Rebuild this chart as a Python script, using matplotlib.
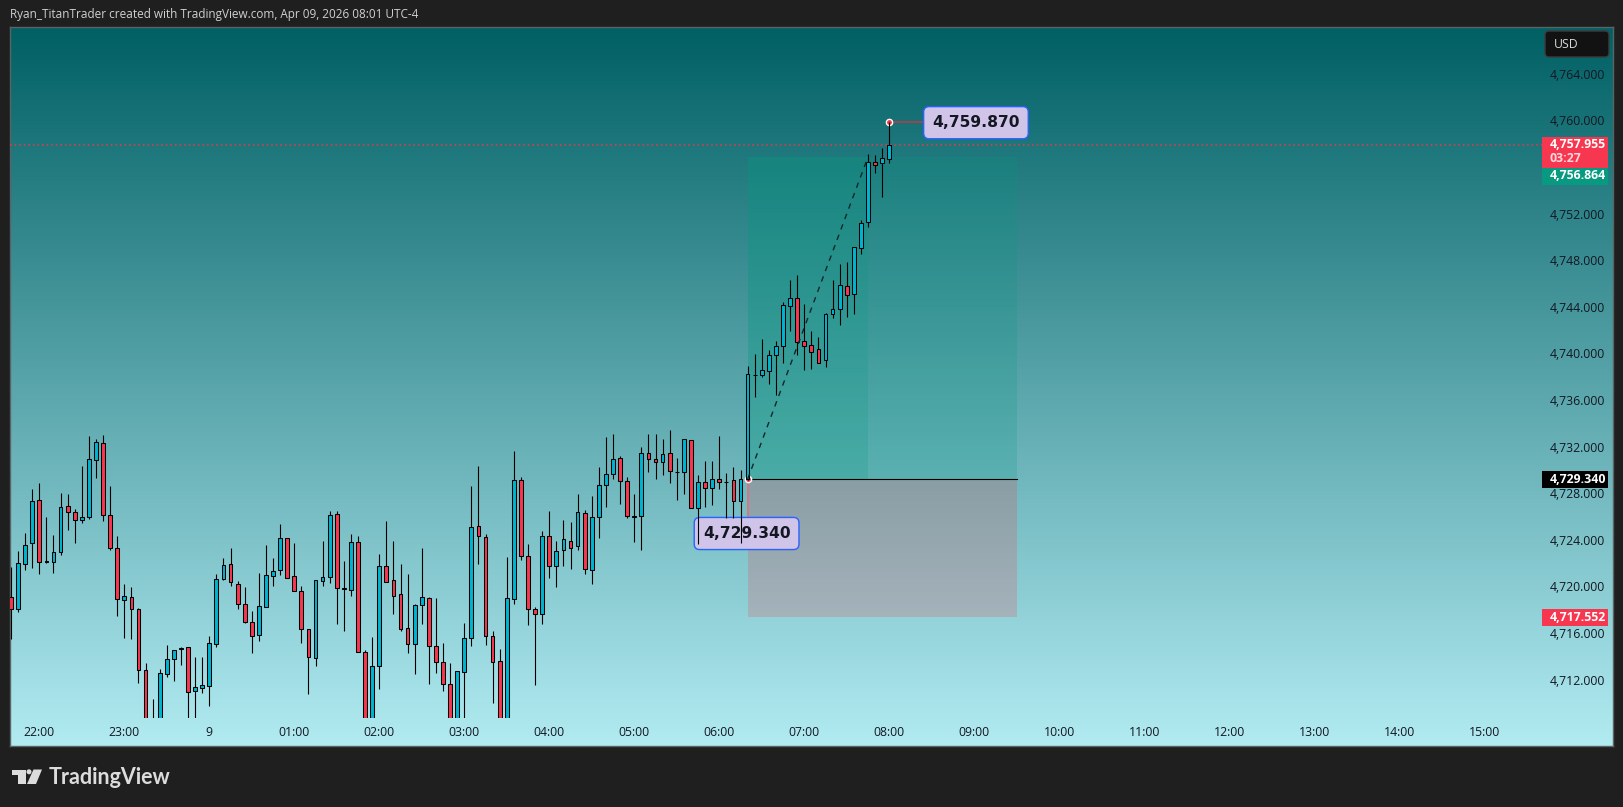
import matplotlib
matplotlib.use('Agg')
import matplotlib.pyplot as plt
import numpy as np
from matplotlib.colors import LinearSegmentedColormap
from matplotlib.patches import Rectangle, FancyBboxPatch, Polygon, Circle

# 5 minute candles
opens = [
    4719.32, 4718.24, 4722.08, 4723.87, 4727.54, 4722.31, 4722.31, 4723.16, 4727.03, 4726.52,
    4725.84, 4726.09, 4730.96, 4732.41, 4726.26, 4723.45, 4719.01, 4719.26, 4718.24, 4713.03,
    4707.5, 4707.2, 4712.75, 4713.97, 4714.88, 4714.99, 4711.29, 4711.55, 4711.72, 4715.31,
    4720.86, 4722.08, 4720.37, 4718.67, 4717.13, 4716.08, 4718.47, 4721.11, 4721.57, 4724.30,
    4721.06, 4719.78, 4716.53, 4714.06, 4720.69, 4720.97, 4726.35, 4720.03, 4719.92, 4723.96,
    4714.57, 4707.5, 4713.37, 4721.91, 4720.71, 4719.52, 4716.62, 4715.25, 4718.58, 4719.18,
    4715.08, 4713.71, 4711.84, 4707.5, 4712.92, 4715.76, 4725.32, 4724.39, 4715.93, 4713.80,
    4707.5, 4719.09, 4729.25, 4722.76, 4718.24, 4717.81, 4724.47, 4721.91, 4723.28, 4724.04,
    4723.62, 4726.43, 4721.57, 4726.09, 4728.82, 4729.76, 4731.13, 4729.17, 4726.18, 4726.18,
    4731.56, 4731.04, 4730.79, 4731.56, 4729.96, 4729.93, 4732.67, 4726.86, 4729.08, 4728.57,
    4729.34, 4729.14, 4729.25, 4727.46, 4729.34, 4738.27, 4738.27, 4738.55, 4739.98, 4740.69,
    4744.10, 4744.79, 4741.12, 4740.77, 4740.43, 4739.49, 4743.42, 4743.85, 4745.81, 4745.13,
    4749.06, 4751.28, 4756.40, 4756.31, 4756.71,
]
highs = [
    4721.88, 4723.22, 4724.73, 4728.51, 4729.00, 4726.12, 4724.58, 4728.17, 4728.08, 4726.78,
    4730.48, 4733.04, 4732.75, 4733.12, 4728.77, 4724.50, 4720.40, 4720.15, 4718.35, 4713.66,
    4710.58, 4713.12, 4715.19, 4714.74, 4714.99, 4714.99, 4714.17, 4714.17, 4715.93, 4721.25,
    4722.62, 4723.47, 4720.63, 4720.15, 4718.10, 4721.31, 4723.73, 4722.62, 4725.52, 4724.30,
    4723.90, 4720.23, 4716.53, 4720.71, 4724.07, 4726.63, 4726.63, 4722.36, 4724.67, 4724.50,
    4714.77, 4715.88, 4722.96, 4725.78, 4724.07, 4722.11, 4721.25, 4718.69, 4723.47, 4719.29,
    4719.21, 4715.36, 4713.66, 4712.95, 4717.04, 4728.77, 4730.48, 4724.64, 4716.39, 4714.85,
    4722.71, 4731.76, 4729.51, 4723.82, 4718.41, 4724.93, 4726.63, 4724.07, 4725.87, 4725.69,
    4728.08, 4726.69, 4727.91, 4730.39, 4732.95, 4733.21, 4731.33, 4729.51, 4728.08, 4732.10,
    4733.21, 4733.21, 4732.78, 4733.55, 4731.16, 4732.75, 4732.70, 4729.68, 4730.90, 4730.90,
    4733.04, 4729.85, 4730.36, 4730.11, 4739.01, 4740.03, 4741.32, 4740.35, 4741.14, 4744.47,
    4746.35, 4746.78, 4744.30, 4742.00, 4741.49, 4743.51, 4746.32, 4747.72, 4747.89, 4749.17,
    4751.45, 4757.11, 4757.02, 4757.62, 4759.87,
]
lows = [
    4715.73, 4718.04, 4721.60, 4721.80, 4721.28, 4722.22, 4721.37, 4722.88, 4725.01, 4723.90,
    4725.61, 4725.95, 4729.45, 4725.78, 4723.30, 4717.67, 4715.79, 4715.71, 4711.95, 4706.5,
    4707.0, 4706.5, 4712.46, 4712.12, 4713.49, 4707.5, 4707.5, 4711.10, 4709.99, 4715.02,
    4720.74, 4720.23, 4718.27, 4717.10, 4714.51, 4715.53, 4718.41, 4720.23, 4721.17, 4720.94,
    4719.83, 4715.36, 4711.01, 4713.40, 4720.23, 4720.49, 4716.99, 4716.42, 4719.41, 4714.62,
    4707.0, 4707.0, 4711.44, 4720.60, 4717.84, 4716.39, 4714.51, 4712.72, 4716.99, 4711.86,
    4712.80, 4711.29, 4707.0, 4707.0, 4708.96, 4715.11, 4722.11, 4715.19, 4710.24, 4707.0,
    4707.0, 4718.69, 4722.45, 4716.93, 4711.78, 4717.01, 4720.94, 4720.17, 4721.97, 4721.71,
    4723.33, 4721.28, 4720.43, 4724.36, 4727.00, 4729.39, 4727.26, 4726.06, 4723.99, 4723.33,
    4729.96, 4729.39, 4729.74, 4729.05, 4727.60, 4728.11, 4726.86, 4723.84, 4726.97, 4727.15,
    4728.54, 4726.04, 4726.04, 4723.93, 4729.25, 4736.39, 4738.10, 4737.47, 4736.53, 4739.29,
    4742.03, 4739.95, 4738.67, 4738.75, 4739.24, 4738.95, 4743.11, 4742.51, 4743.19, 4743.45,
    4748.57, 4750.88, 4755.49, 4753.44, 4756.37,
]
closes = [
    4718.24, 4722.17, 4723.70, 4727.46, 4722.25, 4722.34, 4723.10, 4726.95, 4726.52, 4725.84,
    4726.09, 4731.04, 4732.50, 4726.26, 4723.45, 4719.09, 4719.35, 4718.24, 4713.03, 4707.5,
    4708.93, 4712.77, 4713.97, 4714.74, 4714.91, 4711.21, 4711.58, 4711.75, 4715.34, 4720.80,
    4721.99, 4720.54, 4718.67, 4717.13, 4715.99, 4718.49, 4721.14, 4721.48, 4724.30, 4720.94,
    4719.83, 4716.59, 4714.14, 4720.71, 4720.97, 4726.26, 4720.03, 4720.00, 4723.96, 4714.62,
    4707.5, 4713.37, 4721.91, 4720.60, 4719.35, 4716.59, 4715.25, 4718.58, 4719.26, 4715.14,
    4713.77, 4711.84, 4707.5, 4712.95, 4715.76, 4725.24, 4724.47, 4715.93, 4713.77, 4707.5,
    4719.18, 4729.25, 4722.76, 4718.24, 4717.84, 4724.47, 4721.91, 4723.19, 4724.21, 4723.45,
    4726.52, 4721.65, 4726.09, 4728.82, 4729.76, 4731.10, 4729.17, 4726.18, 4726.15, 4731.56,
    4731.04, 4730.79, 4731.47, 4730.02, 4729.93, 4732.75, 4726.86, 4729.08, 4728.57, 4729.34,
    4729.08, 4729.11, 4727.46, 4729.34, 4738.30, 4738.21, 4738.64, 4739.92, 4740.69, 4744.19,
    4744.79, 4741.09, 4740.75, 4740.23, 4739.29, 4743.42, 4743.85, 4745.90, 4745.10, 4749.14,
    4751.19, 4756.40, 4756.20, 4756.74, 4757.85,
]

time_labels = ['22:00', '23:00', '9', '01:00', '02:00', '03:00', '04:00', '05:00', '06:00',
               '07:00', '08:00', '09:00', '10:00', '11:00', '12:00', '13:00', '14:00', '15:00']
# 4,756 sits under the price tags in the picture
price_ticks = [4712, 4716, 4720, 4724, 4728, 4732, 4736, 4740, 4744, 4748, 4752, 4760, 4764]

entry = 4729.34
target = 4756.864
stop = 4717.552
peak = 4759.87
last = 4757.955

W, H = 1623, 807
BG = '#1f1f1f'
UP = '#00b4d0'
DOWN = '#f7374f'
TEXT = '#131722'
FONT = 'Open Sans'

# pixel geometry of the pane
PANE_L, PANE_R, PANE_T, PANE_B = 10, 1613, 27, 746
CHART_R, CHART_B = 1542, 718
BAR_PX = 7.083
BAR4_X = 39.3          # x of the bar at 22:00
PX_PER_USD = 11.713
PEAK_Y = 121.7
# the labels of the price scale run a little tighter than the candles
LABEL_PX = 11.65
LABEL_Y = 73.8         # y of the 4,764 label

fig = plt.figure(figsize=(W / 100, H / 100), dpi=100, facecolor=BG)


def rect(l, t, r, b):
    return [l / W, 1 - b / H, (r - l) / W, (b - t) / H]


# background gradient
bg_ax = fig.add_axes(rect(PANE_L, PANE_T, PANE_R, PANE_B), zorder=0)
cmap = LinearSegmentedColormap.from_list('pane', ['#006064', '#b2ebf2'])
bg_ax.imshow(np.linspace(0, 1, 256).reshape(-1, 1), aspect='auto', cmap=cmap)
bg_ax.set_xticks([])
bg_ax.set_yticks([])
for s in bg_ax.spines.values():
    s.set_color('#5a6466')
    s.set_linewidth(1)

# candles
ax = fig.add_axes(rect(PANE_L, PANE_T, CHART_R, CHART_B), zorder=1)
ax.patch.set_alpha(0)
for s in ax.spines.values():
    s.set_visible(False)
ax.set_xlim(4 + (PANE_L - BAR4_X) / BAR_PX, 4 + (CHART_R - BAR4_X) / BAR_PX)
ax.set_ylim(peak - (CHART_B - PEAK_Y) / PX_PER_USD, peak + (PEAK_Y - PANE_T) / PX_PER_USD)

xs = np.arange(len(opens))
o = np.array(opens)
c = np.array(closes)
colors = np.where(c >= o, UP, DOWN)
ax.vlines(xs, lows, highs, color='black', linewidth=0.8, zorder=4)
ax.bar(xs, np.abs(c - o), bottom=np.minimum(o, c), width=0.53, color=colors,
       edgecolor='black', linewidth=0.75, zorder=5)

# long position tool
ENTRY_I, END_I, FILL_I = 104, 142, 121
ax.add_patch(Rectangle((ENTRY_I, entry), END_I - ENTRY_I, target - entry,
                       facecolor='#089981', alpha=0.2, linewidth=0, zorder=1))
ax.add_patch(Rectangle((ENTRY_I, entry), FILL_I - ENTRY_I, target - entry,
                       facecolor='#089981', alpha=0.2, linewidth=0, zorder=1))
ax.add_patch(Rectangle((ENTRY_I, stop), END_I - ENTRY_I, entry - stop,
                       facecolor='#f23645', alpha=0.2, linewidth=0, zorder=1))
ax.plot([ENTRY_I, END_I], [entry, entry], color='black', linewidth=0.8, zorder=2)

# current price line, level with the body top of the last candle
ax.axhline(closes[-1], color='#f23645', linewidth=1.1, linestyle=(0, (1, 2)), zorder=2)

# price labels with their connectors
ax.plot([124, 129], [peak, peak], color='#8f4a55', linewidth=1.5, zorder=2)
ax.plot([ENTRY_I, ENTRY_I], [entry, entry - 3.3], color='#d07a85', linewidth=1.5, zorder=2)
box = dict(boxstyle='round,pad=0.55,rounding_size=0.35', facecolor='#d1c4e9',
           edgecolor='#2962ff', linewidth=1)
ax.annotate('4,759.870', xy=(124, peak), xytext=(86.7, -1), textcoords='offset pixels',
            ha='center', va='center', fontsize=11.2, fontweight='bold',
            family='DejaVu Sans', color=TEXT, bbox=box, zorder=3)
ax.annotate('4,729.340', xy=(ENTRY_I, entry), xytext=(-1, -54.2), textcoords='offset pixels',
            ha='center', va='center', fontsize=11.2, fontweight='bold',
            family='DejaVu Sans', color=TEXT, bbox=box, zorder=3)

ax.plot([ENTRY_I, FILL_I], [entry, target], color='#10272b', linewidth=1,
        linestyle=(0, (4, 4)), zorder=6)
ax.plot([124, ENTRY_I], [peak, entry], linestyle='none', marker='o', markersize=4.5,
        markerfacecolor='#f23645', markeredgecolor='white', markeredgewidth=1, zorder=3.5)

# axes
ax.set_xticks(4 + 12 * np.arange(len(time_labels)))
ax.set_xticklabels(time_labels, family=FONT, fontsize=8.8, color=TEXT)
ax.set_yticks([])
ax.tick_params(axis='x', length=0, pad=5.5)

price_ax = ax.twinx()
price_ax.patch.set_alpha(0)
for s in price_ax.spines.values():
    s.set_visible(False)
price_ax.set_ylim(4764 - (CHART_B - LABEL_Y) / LABEL_PX, 4764 + (LABEL_Y - PANE_T) / LABEL_PX)
price_ax.set_yticks(price_ticks)
price_ax.set_yticklabels([f'{p:,.3f}' for p in price_ticks], family=FONT, fontsize=8.8, color=TEXT)
price_ax.tick_params(axis='y', length=0, pad=5.7)


# the tags follow the candle scale but must paint over the tick labels
def price_tag(y_top, y_bottom, color):
    price_ax.add_patch(Rectangle((1.0, y_bottom), 66 / (CHART_R - PANE_L), y_top - y_bottom,
                                 transform=ax.get_yaxis_transform(), clip_on=False,
                                 facecolor=color, linewidth=0, zorder=10))


def tag_text(y, text, alpha=1.0):
    price_ax.text(1 + 8 / (CHART_R - PANE_L), y, text, transform=ax.get_yaxis_transform(),
                  ha='left', va='center', family=FONT, fontsize=8.8, fontweight='bold',
                  color='white', alpha=alpha, clip_on=False, zorder=11)


price_tag(4758.54, 4755.94, '#f7374f')
tag_text(last, '4,757.955')
tag_text(4756.75, '03:27', alpha=0.8)
price_tag(4755.94, 4754.47, '#089981')
tag_text(4755.25, '4,756.864')
price_tag(entry + 0.73, entry - 0.73, 'black')
tag_text(entry, '4,729.340')
price_tag(stop + 0.73, stop - 0.73, '#f7374f')
tag_text(stop, '4,717.552')

# chrome drawn in pixel coordinates
ov = fig.add_axes([0, 0, 1, 1], zorder=5)
ov.set_xlim(0, W)
ov.set_ylim(H, 0)
ov.axis('off')
ov.text(10, 14.5, 'Ryan_TitanTrader created with TradingView.com, Apr 09, 2026 08:01 UTC-4',
        family=FONT, fontsize=8.43, color='#d0d0d0', ha='left', va='center')
ov.add_patch(FancyBboxPatch((1549, 35), 56, 18, boxstyle='round,pad=4,rounding_size=4',
                            facecolor='#121212', edgecolor='#3c3c3c', linewidth=1))
ov.text(1554, 44.5, 'USD', family=FONT, fontsize=8.8, color='#d8d8d8', ha='left', va='center')

# logo
logo = '#dcdcdc'
ov.add_patch(Polygon([(12, 769.5), (26, 769.5), (26, 784), (18.3, 784), (18.3, 774.5), (12, 774.5)],
                     closed=True, facecolor=logo, linewidth=0))
ov.add_patch(Circle((29, 771.8), 2.5, facecolor=logo, linewidth=0))
ov.add_patch(Polygon([(33.5, 769.5), (42, 769.5), (36, 784), (27, 784)], closed=True,
                     facecolor=logo, linewidth=0))
ov.text(49, 777, 'TradingView', family='Lato', fontweight='bold', fontsize=15.5, color=logo,
        ha='left', va='center')

fig.savefig('out.png', dpi=100, facecolor=BG)
